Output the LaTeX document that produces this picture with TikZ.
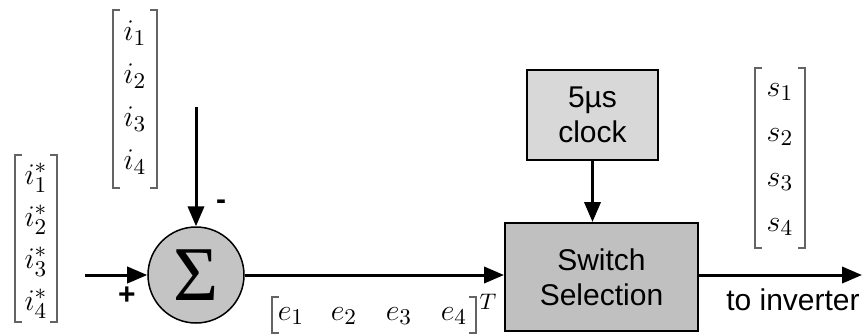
\documentclass[tikz,border=0pt]{standalone}
\usepackage{fontspec}
\setmainfont{Liberation Sans}
\newfontfamily\sigmafont{Liberation Serif}
\usetikzlibrary{arrows.meta}

\definecolor{blockdark}{RGB}{192,192,192}
\definecolor{blocklight}{RGB}{216,216,216}
\definecolor{sumfill}{RGB}{196,196,196}
\definecolor{brackcol}{RGB}{100,100,100}

\tikzset{
  flow/.style={line width=1.2pt, -{Triangle[length=8pt,width=6.5pt]}},
  blk/.style={draw, line width=0.8pt, align=center, inner sep=0pt,
              font=\fontsize{12}{14}\selectfont},
  entry/.style={inner sep=0pt, font=\fontsize{13}{15}\selectfont},
  lbl/.style={inner sep=0pt, font=\fontsize{12}{14}\selectfont},
  brk/.style={draw=brackcol, line width=0.6pt},
  sgn/.style={inner sep=0pt, font=\fontsize{12}{14}\selectfont\bfseries}
}

% square brackets around a column vector: left x, right x, top y, bottom y
\newcommand\vbrackets[4]{%
  \draw[brk] (#1+7,#3) -- (#1,#3) -- (#1,#4) -- (#1+7,#4);
  \draw[brk] (#2-7,#3) -- (#2,#3) -- (#2,#4) -- (#2-7,#4);}

\begin{document}
\begin{tikzpicture}[x=0.4pt, y=-0.4pt]
  \useasboundingbox (0,0) rectangle (868,335);

  % reference currents
  \vbrackets{15}{57}{155}{322}
  \node[entry] (r1) at (36,178) {$i_1^*$};
  \node[entry] (r2) at (36,220) {$i_2^*$};
  \node[entry] (r3) at (36,262) {$i_3^*$};
  \node[entry] (r4) at (36,304) {$i_4^*$};

  % measured currents
  \vbrackets{113}{157}{10}{188}
  \node[entry] (m1) at (135,33)  {$i_1$};
  \node[entry] (m2) at (135,76)  {$i_2$};
  \node[entry] (m3) at (135,119) {$i_3$};
  \node[entry] (m4) at (135,162) {$i_4$};

  % summing junction
  \node[circle, draw, line width=0.6pt, fill=sumfill, minimum size=38.4pt,
        inner sep=0pt] (sum) at (196,275)
        {\sigmafont\fontsize{31}{31}\selectfont Σ};
  \coordinate (in) at (85,275);
  \coordinate (fb) at (196,107);
  \draw[flow] (in) -- (sum.west);
  \draw[flow] (fb) -- (sum.north);
  \node[sgn] (plus) at (127,296) {+};
  \node[sgn] (minus) at (221,205) {-};

  % switch selection and clock
  \node[blk, fill=blockdark, minimum width=77.2pt, minimum height=43.2pt]
        (sw) at (601.5,277) {Switch\\Selection};
  \node[blk, fill=blocklight, minimum width=52.4pt, minimum height=36pt]
        (clk) at (592.5,115) {5µs\\clock};
  \draw[flow] (sum.east) -- (sum.east -| sw.west);
  \draw[flow] (clk.south) -- (clk.south |- sw.north);

  % error vector
  \draw[brk, line width=0.8pt] (279,297) -- (272,297) -- (272,333) -- (279,333);
  \draw[brk, line width=0.8pt] (469,297) -- (476,297) -- (476,333) -- (469,333);
  \node[entry] (e1) at (291,316) {$e_1$};
  \node[entry] (e2) at (344,316) {$e_2$};
  \node[entry] (e3) at (399,316) {$e_3$};
  \node[entry] (e4) at (454,316) {$e_4$};
  \node[inner sep=0pt, font=\fontsize{9}{10}\selectfont] (tr) at (488,302) {$T$};

  % output to the inverter
  \coordinate (out) at (862,275);
  \draw[flow] (sw.east |- out) -- (out);
  \node[lbl] (inv) at (793,300) {to inverter};

  % switching states
  \vbrackets{755}{805}{68}{248}
  \node[entry] (s1) at (780,92)  {$s_1$};
  \node[entry] (s2) at (780,137) {$s_2$};
  \node[entry] (s3) at (780,182) {$s_3$};
  \node[entry] (s4) at (780,227) {$s_4$};
\end{tikzpicture}
\end{document}
